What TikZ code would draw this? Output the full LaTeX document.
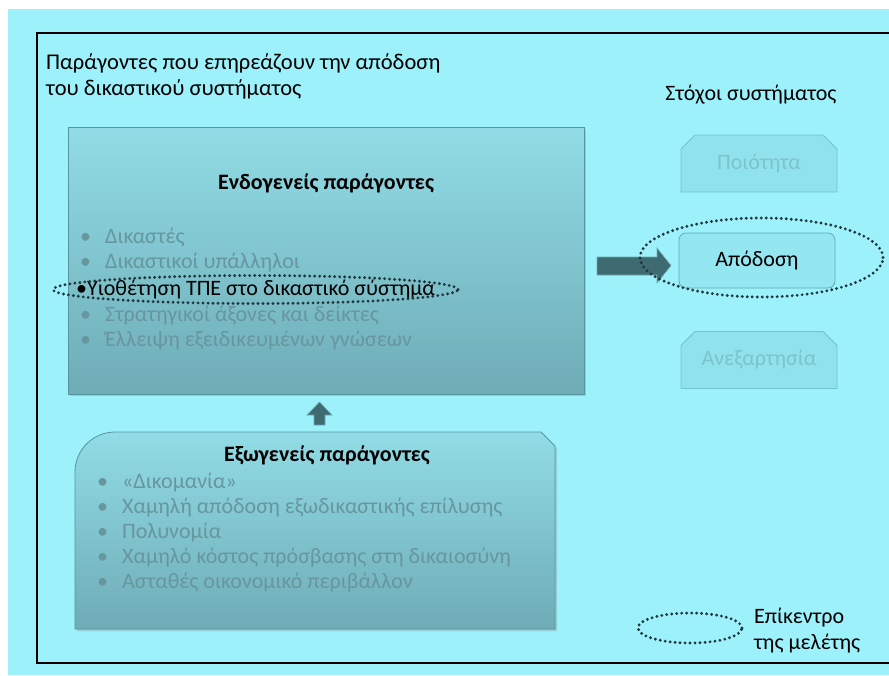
\documentclass[tikz,border=0pt]{standalone}
\usepackage{fontspec}
\setmainfont{Carlito}
\usepackage{tikz}
\usetikzlibrary{shapes.geometric,shapes.misc,shadows}
\definecolor{bgcyan}{RGB}{157,241,251}
\definecolor{paneltop}{RGB}{145,220,230}
\definecolor{panelbot}{RGB}{110,172,182}
\definecolor{paneldraw}{RGB}{88,148,158}
\definecolor{fadedtext}{RGB}{104,150,158}
\definecolor{goalfill}{RGB}{144,226,236}
\definecolor{goaldraw}{RGB}{112,196,207}
\definecolor{goaltext}{RGB}{124,196,206}
\definecolor{perffill}{RGB}{148,231,241}
\definecolor{perfdraw}{RGB}{98,168,178}
\definecolor{arrowfill}{RGB}{62,106,113}
\definecolor{arrowdraw}{RGB}{118,168,176}
\definecolor{dotcolor}{RGB}{32,56,62}

\begin{document}
\begin{tikzpicture}[x=1pt,y=-1pt,
    every node/.style={inner sep=0pt,font=\fontsize{22}{26}\selectfont},
    panel/.style={draw=paneldraw,line width=.8pt,top color=paneltop,bottom color=panelbot,
      drop shadow={shadow xshift=2pt,shadow yshift=-2pt,opacity=.3}},
    goalbox/.style={draw=goaldraw,line width=.8pt,fill=goalfill,text=goaltext,
      minimum width=156pt,minimum height=57pt,chamfered rectangle,
      chamfered rectangle corners={north west,north east},chamfered rectangle xsep=7pt,chamfered rectangle ysep=7pt},
    listitem/.style={anchor=west,text=fadedtext,font=\fontsize{22}{26}\selectfont},
    heading/.style={font=\fontsize{22}{26}\selectfont\bfseries},
    focus/.style={ellipse,draw=dotcolor,line width=3.2pt,line cap=round,dash pattern=on 0pt off 5pt},
    blockarrow/.style={fill=arrowfill,draw=arrowdraw,line width=.6pt}]
    \useasboundingbox (0,0) rectangle (889,675);
    % background and frame
    \fill[bgcyan] (8,9) rectangle (889,675);
    \draw[line width=2.8pt] (889,33) -- (37,33) -- (37,663) -- (889,663);
    \node[anchor=west,font=\fontsize{22.5}{26}\selectfont] (title1) at (46,63) {Παράγοντες που επηρεάζουν την απόδοση};
    \node[anchor=west,font=\fontsize{22.5}{26}\selectfont] (title2) at (46,89) {του δικαστικού συστήματος};
    \node (goalstitle) at (751,95) {Στόχοι συστήματος};

    % endogenous factors
    \node[panel,anchor=north west,minimum width=516pt,minimum height=267pt] (endo) at (68,127) {};
    \node[heading] (endohead) at (326,183) {Ενδογενείς παράγοντες};
    \node[listitem] (endo1) at (80,237) {\makebox[25pt][l]{•}Δικαστές};
    \node[listitem] (endo2) at (80,263) {\makebox[25pt][l]{•}Δικαστικοί υπάλληλοι};
    \node[listitem] (endo4) at (80,316) {\makebox[25pt][l]{•}Στρατηγικοί άξονες και δείκτες};
    \node[listitem] (endo5) at (80,341) {\makebox[25pt][l]{•}Έλλειψη εξειδικευμένων γνώσεων};
    \node[anchor=west] (ict) at (76,290) {•Υιοθέτηση ΤΠΕ στο δικαστικό σύστημα};
    \node[focus,minimum width=405pt,minimum height=28pt] (focusict) at (255.5,289.5) {};

    % exogenous factors
    \draw[panel] (75,629) [rounded corners=40pt] -- (75,432) [sharp corners] -- (541,432) -- (555,446) -- (555,629) -- cycle;
    \node[heading] (exohead) at (327,455) {Εξωγενείς παράγοντες};
    \node[listitem] (exo1) at (97,483) {\makebox[25pt][l]{•}«Δικομανία»};
    \node[listitem] (exo2) at (97,508) {\makebox[25pt][l]{•}Χαμηλή απόδοση εξωδικαστικής επίλυσης};
    \node[listitem] (exo3) at (97,533) {\makebox[25pt][l]{•}Πολυνομία};
    \node[listitem] (exo4) at (97,558) {\makebox[25pt][l]{•}Χαμηλό κόστος πρόσβασης στη δικαιοσύνη};
    \node[listitem] (exo5) at (97,583) {\makebox[25pt][l]{•}Ασταθές οικονομικό περιβάλλον};

    % block arrows
    \draw[blockarrow] (319.5,402) -- (332,415) -- (325,415) -- (325,425) -- (314,425) -- (314,415) -- (307,415) -- cycle;
    \draw[blockarrow] (597,257) -- (657,257) -- (657,248) -- (671,265.5) -- (657,283) -- (657,275) -- (597,275) -- cycle;

    % system goals
    \node[goalbox] (quality) at (759,163.5) {Ποιότητα};
    \node[draw=perfdraw,line width=.8pt,fill=perffill,rounded corners=7pt,
      minimum width=156pt,minimum height=55pt] (perf) at (757,260.5) {Απόδοση};
    \node[goalbox] (indep) at (759,360) {Ανεξαρτησία};
    \node[focus,minimum width=243pt,minimum height=79pt] (focusperf) at (761.5,257.5) {};

    % legend
    \node[focus,minimum width=104pt,minimum height=30pt] (focuskey) at (690,628) {};
    \node[anchor=west,align=left] (keytext) at (754,631) {Επίκεντρο\\της μελέτης};
\end{tikzpicture}
\end{document}
